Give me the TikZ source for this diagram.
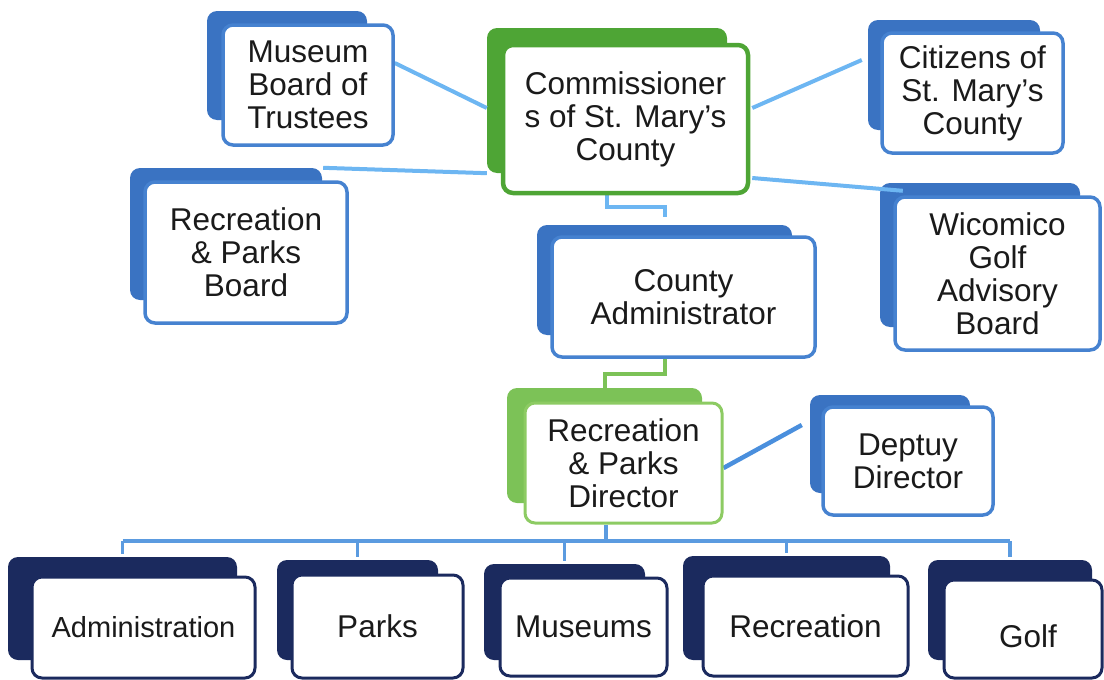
\documentclass[tikz,border=0pt]{standalone}
\usepackage{fontspec}
\setmainfont{Liberation Sans}
\usetikzlibrary{fit,backgrounds}
\definecolor{shblue}{HTML}{3A73C2}
\definecolor{bdblue}{HTML}{4682D0}
\definecolor{navy}{HTML}{1B2A5E}
\definecolor{dkgreen}{HTML}{4EA535}
\definecolor{ltgreen}{HTML}{7CC257}
\definecolor{ltgreenbd}{HTML}{8DCB63}
\definecolor{linkblue}{HTML}{6DB6F2}
\definecolor{midblue}{HTML}{4A8FDD}
\definecolor{busblue}{HTML}{5B9BE0}
\definecolor{ink}{HTML}{1A1A1A}
\pgfdeclarelayer{backs}
\pgfdeclarelayer{links}
\pgfsetlayers{backs,links,main}
\tikzset{
  back/.style={fill=#1, rounded corners=10pt, inner sep=0pt, draw=none},
  card/.style={fill=white, draw=#1, line width=3.5pt, rounded corners=10pt,
    inner sep=0pt, align=center, text=ink,
    font=\fontsize{31.5}{33}\selectfont},
  link/.style={draw=linkblue, line width=4pt},
  greenlink/.style={draw=ltgreen, line width=4pt},
  bluelink/.style={draw=midblue, line width=4.5pt},
  buslink/.style={draw=busblue, line width=3.5pt},
}
\begin{document}
\begin{tikzpicture}[x=1pt,y=-1pt]
\useasboundingbox (0,0) rectangle (1104,680);

% back plates
\begin{pgfonlayer}{backs}
\node[back=shblue, fit={(207,11)(367,120)}] (musS) {};
\node[back=dkgreen, fit={(487,28)(727,173)}] (commS) {};
\node[back=shblue, fit={(868,20)(1040,130)}] (citS) {};
\node[back=shblue, fit={(130,168)(322,300)}] (rpbS) {};
\node[back=shblue, fit={(880,183)(1080,327)}] (wicS) {};
\node[back=shblue, fit={(537,225)(792,335)}] (caS) {};
\node[back=ltgreen, fit={(507,388)(702,503)}] (dirS) {};
\node[back=shblue, fit={(810,395)(970,493)}] (depS) {};
\node[back=navy, fit={(8,557)(237,660)}] (admS) {};
\node[back=navy, fit={(277,560)(438,660)}] (parksS) {};
\node[back=navy, fit={(484,564)(645,660)}] (musmS) {};
\node[back=navy, fit={(683,556)(890,660)}] (recS) {};
\node[back=navy, fit={(928,560)(1092,660)}] (golfS) {};
\end{pgfonlayer}

% front cards
\node[card=bdblue, minimum width=170pt, minimum height=120pt] (mus) at (308,85) {Museum\\Board of\\Trustees};
\node[card=dkgreen, line width=4.5pt, minimum width=245pt, minimum height=148pt] (comm) at (625.5,119) {Commissioner\\s of St. Mary’s\\County};
\node[card=bdblue, minimum width=181pt, minimum height=120pt] (cit) at (972.5,93) {Citizens of\\St. Mary’s\\County};
\node[card=bdblue, minimum width=202pt, minimum height=141pt] (rpb) at (246,252.5) {Recreation\\\& Parks\\Board};
\node[card=bdblue, minimum width=205pt, minimum height=153pt] (wic) at (997.5,273.5) {Wicomico\\Golf\\Advisory\\Board};
\node[card=bdblue, minimum width=263pt, minimum height=120pt] (ca) at (683.5,297) {County\\Administrator};
\node[card=ltgreenbd, line width=3pt, minimum width=197pt, minimum height=120pt] (dir) at (623.5,463) {Recreation\\\& Parks\\Director};
\node[card=bdblue, minimum width=170pt, minimum height=108pt] (dep) at (908,461) {Deptuy\\Director};
\node[card=navy, line width=3pt, minimum width=223pt, minimum height=101pt, font=\fontsize{29}{33}\selectfont] (adm) at (143.5,627.5) {Administration};
\node[card=navy, line width=3pt, minimum width=171pt, minimum height=103pt] (parks) at (377.5,626.5) {Parks};
\node[card=navy, line width=3pt, minimum width=167pt, minimum height=98pt] (musm) at (583.5,627) {Museums};
\node[card=navy, line width=3pt, minimum width=205pt, minimum height=100pt] (rec) at (805.5,626) {Recreation};
\node[card=navy, line width=3pt, minimum width=158pt, minimum height=98pt] (golf) at (1023,629) {};
\node[text=ink, font=\fontsize{31.5}{33}\selectfont, inner sep=0pt] (golfT) at (1028,636) {Golf};

% connectors
\begin{pgfonlayer}{links}
\draw[link] ([yshift=22pt]mus.east) -- ([yshift=-7.5pt]commS.west);
\draw[link] ([xshift=1pt]rpbS.north east) -- (commS.south west);
\draw[link] ([xshift=2pt,yshift=11pt]comm.east) -- ([xshift=-6pt,yshift=15pt]citS.west);
\draw[link] ([xshift=2pt,yshift=-59pt]comm.east) -- ([xshift=23pt,yshift=-8pt]wicS.north west);
\draw[link] ([xshift=-18.5pt]comm.south) -- ++(0,12) -| ([yshift=8pt]caS.north);
\draw[greenlink] ([xshift=-18.5pt]ca.south) -- ++(0,15) -| (dirS.north);
\draw[bluelink] ([yshift=-5pt]dir.east) -- ([xshift=-8pt,yshift=19pt]depS.west);
\coordinate (busL) at (122.5,541);
\coordinate (busR) at (1010,541);
\draw[buslink] ([xshift=-17.5pt]dir.south) -- ([xshift=-17.5pt]dir.south |- busL);
\draw[buslink] (busL) -- (busR);
\foreach \n in {admS,parksS,musmS,recS,golfS}
  \draw[buslink] (\n.north |- busL) -- ([yshift=3pt]\n.north);
\end{pgfonlayer}
\end{tikzpicture}
\end{document}
